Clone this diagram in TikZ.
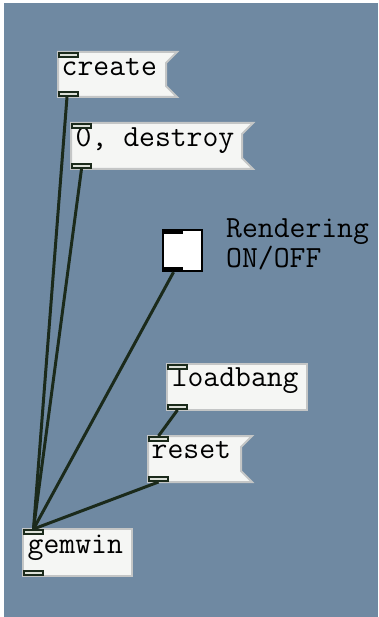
\documentclass[tikz,border=0pt]{standalone}
\usepackage{fontspec}
\definecolor{bg}{HTML}{6F89A2}
\definecolor{boxfill}{HTML}{F5F6F4}
\definecolor{boxline}{HTML}{C4C6C6}
\definecolor{wirec}{HTML}{1B2A1B}
\definecolor{portfill}{HTML}{DCE0D8}
\newcommand{\pdfont}{\ttfamily\fontsize{30.8}{35}\selectfont}
\begin{document}
\begin{tikzpicture}[x=1pt,y=-1pt,
  box/.style={fill=boxfill, draw=boxline, line width=2pt},
  port/.style={fill=portfill, draw=wirec, line width=2.2pt, minimum width=18.8pt, minimum height=3.8pt, inner sep=0pt},
  tport/.style={fill=black, draw=none, minimum width=21pt, minimum height=5pt, inner sep=0pt},
  wire/.style={draw=wirec, line width=3pt},
  txt/.style={anchor=base west, inner sep=0pt, font=\pdfont, text=black}]
\useasboundingbox (0,0) rectangle (378,617);
\fill[white] (0,0) rectangle (378,617);
\fill[bg] (4,3) rectangle (378,617);

% create
\draw[box] (58,52) -- (177,52) -- (166,63) -- (166,86) -- (177,97) -- (58,97) -- cycle;
\node[txt] (create) at (61.5,75.5) {create};
\node[port] (createin) at (68.5,55) {};
\node[port] (createout) at (68.5,94) {};

% 0, destroy
\draw[box] (71,123) -- (253,123) -- (242,134) -- (242,158) -- (253,169) -- (71,169) -- cycle;
\node[txt] (destroy) at (75.5,146.5) {0, destroy};
\node[port] (destroyin) at (81.5,126) {};
\node[port] (destroyout) at (81.5,166) {};

% toggle
\draw[fill=white, draw=black, line width=2.5pt] (163,230) rectangle (202,271);
\node[tport, anchor=north west] (togin) at (161.8,228.8) {};
\node[tport, anchor=south west] (togout) at (161.8,272.2) {};
\node[txt] (lab1) at (226,237) {Rendering};
\node[txt] (lab2) at (226,267.5) {ON/OFF};

% loadbang
\draw[box] (167,364) rectangle (307,410);
\node[txt] (loadbang) at (171.5,386.5) {loadbang};
\node[port] (loadin) at (177.5,367) {};
\node[port] (loadout) at (177.5,407) {};

% reset
\draw[box] (148,436) -- (252,436) -- (241,447) -- (241,471) -- (252,482) -- (148,482) -- cycle;
\node[txt] (reset) at (151.5,458.5) {reset};
\node[port] (resetin) at (158.5,439) {};
\node[port] (resetout) at (158.5,479) {};

% gemwin
\draw[box] (23,529) rectangle (132,576);
\node[txt] (gemwin) at (27.5,553) {gemwin};
\node[port] (gemin) at (33.5,532) {};
\node[port] (gemout) at (33.5,573) {};

% wires
\draw[wire] ([xshift=-1.5pt]createout.south) -- (gemin.north);
\draw[wire] (destroyout.south) -- (gemin.north);
\draw[wire] ([xshift=1pt]togout.south) -- (gemin.north);
\draw[wire] (loadout.south) -- (resetin.north);
\draw[wire] (resetout.south) -- (gemin.north);
\end{tikzpicture}
\end{document}
